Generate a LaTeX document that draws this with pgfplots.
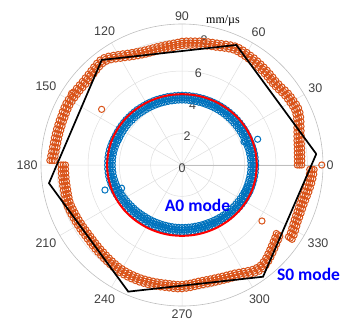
\documentclass[border=0pt]{standalone}
\usepackage{fontspec}
\setmainfont{Liberation Sans}
\newfontfamily\serifF{Liberation Serif}
\newfontfamily\carl{Carlito}
\usepackage{pgfplots}
\pgfplotsset{compat=1.18}
\usepackage{pgfplotstable}
\usepgfplotslibrary{polar}
\definecolor{orangeC}{HTML}{D95319}
\definecolor{blueC}{HTML}{0072BD}
\definecolor{lbl}{HTML}{404040}

\pgfplotstableread{
a rin rc rout
0 7.36 7.50 7.64
2 7.37 7.51 7.65
4 7.38 7.52 7.66
6 7.40 7.54 7.68
8 7.43 7.57 7.71
10 7.46 7.60 7.74
12 7.50 7.64 7.78
14 7.56 7.70 7.84
16 7.63 7.77 7.91
18 7.71 7.85 7.99
20 7.80 7.94 8.08
22 7.89 8.03 8.17
24 7.96 8.10 8.24
26 8.00 8.14 8.28
28 7.99 8.13 8.27
30 7.96 8.10 8.24
32 7.94 8.08 8.22
34 7.91 8.05 8.19
36 7.86 8.00 8.14
38 7.81 7.95 8.09
40 7.78 7.92 8.06
42 7.77 7.91 8.05
44 7.79 7.93 8.07
46 7.82 7.96 8.10
48 7.85 7.99 8.13
50 7.87 8.01 8.15
52 7.90 8.04 8.18
54 7.93 8.07 8.21
56 7.96 8.10 8.24
58 7.98 8.12 8.26
60 8.01 8.15 8.29
62 8.03 8.17 8.31
64 8.05 8.19 8.33
66 8.04 8.18 8.32
68 7.99 8.13 8.27
70 7.93 8.07 8.21
72 7.87 8.01 8.15
74 7.82 7.96 8.10
76 7.79 7.93 8.07
78 7.76 7.90 8.04
80 7.73 7.87 8.01
82 7.71 7.85 7.99
84 7.68 7.82 7.96
86 7.66 7.80 7.94
88 7.64 7.78 7.92
90 7.62 7.76 7.90
92 7.56 7.70 7.84
94 7.52 7.66 7.80
96 7.49 7.63 7.77
98 7.47 7.61 7.75
100 7.45 7.59 7.73
102 7.44 7.58 7.72
104 7.43 7.57 7.71
106 7.43 7.57 7.71
108 7.44 7.58 7.72
110 7.47 7.61 7.75
112 7.52 7.66 7.80
114 7.58 7.72 7.86
116 7.66 7.80 7.94
118 7.76 7.90 8.04
120 7.86 8.00 8.14
122 7.98 8.12 8.26
124 8.10 8.24 8.38
126 8.19 8.33 8.47
128 8.22 8.36 8.50
130 8.19 8.33 8.47
132 8.14 8.28 8.42
134 8.09 8.23 8.37
136 8.05 8.19 8.33
138 8.03 8.17 8.31
140 8.02 8.16 8.30
142 8.03 8.17 8.31
144 8.05 8.19 8.33
146 8.06 8.20 8.34
148 8.08 8.22 8.36
150 8.10 8.24 8.38
152 8.11 8.25 8.39
154 8.10 8.24 8.38
156 8.08 8.22 8.36
158 8.06 8.20 8.34
160 8.06 8.20 8.34
162 8.05 8.19 8.33
164 8.05 8.19 8.33
166 8.05 8.19 8.33
168 8.05 8.19 8.33
170 8.05 8.19 8.33
172 8.06 8.20 8.34
174 8.08 8.22 8.36
176 8.12 8.26 8.40
178 8.16 8.30 8.44
180 7.44 7.58 7.72
182 7.44 7.58 7.72
184 7.44 7.58 7.72
186 7.44 7.58 7.72
188 7.45 7.59 7.73
190 7.45 7.59 7.73
192 7.46 7.60 7.74
194 7.48 7.62 7.76
196 7.50 7.64 7.78
198 7.52 7.66 7.80
200 7.51 7.65 7.79
202 7.49 7.63 7.77
204 7.47 7.61 7.75
206 7.45 7.59 7.73
208 7.44 7.58 7.72
210 7.42 7.56 7.70
212 7.41 7.55 7.69
214 7.40 7.54 7.68
216 7.39 7.53 7.67
218 7.39 7.53 7.67
220 7.40 7.54 7.68
222 7.42 7.56 7.70
224 7.44 7.58 7.72
226 7.46 7.60 7.74
228 7.48 7.62 7.76
230 7.51 7.65 7.79
232 7.54 7.68 7.82
234 7.57 7.71 7.85
236 7.60 7.74 7.88
238 7.63 7.77 7.91
240 7.65 7.79 7.93
242 7.66 7.80 7.94
244 7.67 7.81 7.95
246 7.67 7.81 7.95
248 7.67 7.81 7.95
250 7.67 7.81 7.95
252 7.66 7.80 7.94
254 7.65 7.79 7.93
256 7.64 7.78 7.92
258 7.63 7.77 7.91
260 7.62 7.76 7.90
262 7.61 7.75 7.89
264 7.61 7.75 7.89
266 7.62 7.76 7.90
268 7.63 7.77 7.91
270 7.62 7.76 7.90
272 7.59 7.73 7.87
274 7.56 7.70 7.84
276 7.52 7.66 7.80
278 7.49 7.63 7.77
280 7.48 7.62 7.76
282 7.48 7.62 7.76
284 7.49 7.63 7.77
286 7.50 7.64 7.78
288 7.52 7.66 7.80
290 7.55 7.69 7.83
292 7.58 7.72 7.86
294 7.62 7.76 7.90
296 7.67 7.81 7.95
298 7.75 7.89 8.03
300 7.84 7.98 8.12
302 7.94 8.08 8.22
304 8.04 8.18 8.32
306 8.10 8.24 8.38
308 8.12 8.26 8.40
310 8.07 8.21 8.35
312 7.99 8.13 8.27
314 7.89 8.03 8.17
316 7.79 7.93 8.07
318 7.69 7.83 7.97
320 7.60 7.74 7.88
322 7.52 7.66 7.80
324 7.44 7.58 7.72
326 8.20 8.34 8.48
328 8.16 8.30 8.44
330 8.09 8.23 8.37
332 8.02 8.16 8.30
334 7.97 8.11 8.25
336 7.94 8.08 8.22
338 7.92 8.06 8.20
340 7.91 8.05 8.19
342 7.91 8.05 8.19
344 7.93 8.07 8.21
346 7.96 8.10 8.24
348 8.00 8.14 8.28
350 8.04 8.18 8.32
352 8.08 8.22 8.36
354 8.12 8.26 8.40
356 8.15 8.29 8.43
358 8.16 8.30 8.44
}\orangeT

\pgfplotstableread{
a rin rc rout
0 4.40 4.55 4.70
3 4.40 4.55 4.70
6 4.39 4.54 4.69
9 4.38 4.53 4.68
12 4.37 4.52 4.67
15 4.35 4.50 4.65
18 4.33 4.48 4.63
21 4.32 4.47 4.62
24 4.31 4.46 4.61
27 4.30 4.45 4.60
30 4.29 4.44 4.59
33 4.28 4.43 4.58
36 4.27 4.42 4.57
39 4.26 4.41 4.56
42 4.25 4.40 4.55
45 4.24 4.39 4.54
48 4.23 4.38 4.53
51 4.22 4.37 4.52
54 4.21 4.36 4.51
57 4.20 4.35 4.50
60 4.19 4.34 4.49
63 4.18 4.33 4.48
66 4.17 4.32 4.47
69 4.16 4.31 4.46
72 4.16 4.31 4.46
75 4.15 4.30 4.45
78 4.15 4.30 4.45
81 4.15 4.30 4.45
84 4.15 4.30 4.45
87 4.15 4.30 4.45
90 4.15 4.30 4.45
93 4.15 4.30 4.45
96 4.15 4.30 4.45
99 4.15 4.30 4.45
102 4.16 4.31 4.46
105 4.16 4.31 4.46
108 4.17 4.32 4.47
111 4.18 4.33 4.48
114 4.19 4.34 4.49
117 4.20 4.35 4.50
120 4.21 4.36 4.51
123 4.22 4.37 4.52
126 4.23 4.38 4.53
129 4.25 4.40 4.55
132 4.26 4.41 4.56
135 4.27 4.42 4.57
138 4.28 4.43 4.58
141 4.30 4.45 4.60
144 4.31 4.46 4.61
147 4.32 4.47 4.62
150 4.33 4.48 4.63
153 4.34 4.49 4.64
156 4.35 4.50 4.65
159 4.37 4.52 4.67
162 4.39 4.54 4.69
165 4.41 4.56 4.71
168 4.43 4.58 4.73
171 4.44 4.59 4.74
174 4.45 4.60 4.75
177 4.45 4.60 4.75
180 4.45 4.60 4.75
183 4.45 4.60 4.75
186 4.44 4.59 4.74
189 4.43 4.58 4.73
192 4.41 4.56 4.71
195 4.39 4.54 4.69
198 4.36 4.51 4.66
201 4.33 4.48 4.63
204 4.30 4.45 4.60
207 4.27 4.42 4.57
210 4.24 4.39 4.54
213 4.21 4.36 4.51
216 4.18 4.33 4.48
219 4.15 4.30 4.45
222 4.13 4.28 4.43
225 4.11 4.26 4.41
228 4.09 4.24 4.39
231 4.07 4.22 4.37
234 4.05 4.20 4.35
237 4.04 4.19 4.34
240 4.03 4.18 4.33
243 4.02 4.17 4.32
246 4.01 4.16 4.31
249 4.00 4.15 4.30
252 4.00 4.15 4.30
255 3.99 4.14 4.29
258 3.99 4.14 4.29
261 3.99 4.14 4.29
264 3.99 4.14 4.29
267 3.99 4.14 4.29
270 3.99 4.14 4.29
273 3.99 4.14 4.29
276 3.99 4.14 4.29
279 4.00 4.15 4.30
282 4.00 4.15 4.30
285 4.01 4.16 4.31
288 4.02 4.17 4.32
291 4.03 4.18 4.33
294 4.04 4.19 4.34
297 4.06 4.21 4.36
300 4.08 4.23 4.38
303 4.10 4.25 4.40
306 4.12 4.27 4.42
309 4.14 4.29 4.44
312 4.16 4.31 4.46
315 4.18 4.33 4.48
318 4.20 4.35 4.50
321 4.23 4.38 4.53
324 4.25 4.40 4.55
327 4.27 4.42 4.57
330 4.29 4.44 4.59
333 4.31 4.46 4.61
336 4.33 4.48 4.63
339 4.35 4.50 4.65
342 4.36 4.51 4.66
345 4.37 4.52 4.67
348 4.38 4.53 4.68
351 4.39 4.54 4.69
354 4.40 4.55 4.70
357 4.40 4.55 4.70
}\blueT

\begin{document}
\begin{tikzpicture}
\useasboundingbox (-182pt,-167pt) rectangle (162pt,165pt);
\begin{polaraxis}[
  at={(0,0)}, anchor=origin,
  scale only axis, width=282pt, height=282pt,
  ymin=0, ymax=9,
  xtick={0,30,...,330},
  ytick={0,2,4,6,8},
  yticklabel style={opacity=0},
  xticklabel={\pgfmathprintnumber[assume math mode=true]{\tick}},
  xticklabel style={font=\fontsize{12.5}{14}\selectfont, text=lbl},
  grid=major,
  major grid style={black!13, line width=0.5pt},
  axis line style={black!25, line width=0.6pt},
  tick style={draw=none},
  clip=false,
  clip marker paths=true,
  every axis plot/.append style={mark options={line width=1pt}},
]
\foreach \r/\rr in {2/1.88,4/3.88,6/5.98,8/8.08} {
  \edef\tmp{\noexpand\node[font=\noexpand\fontsize{12.5}{14}\noexpand\selectfont, text=lbl, inner sep=0pt] at (axis cs:80,\rr) {\r};}
  \tmp
}
\node[font=\fontsize{12.5}{14}\selectfont, text=lbl, inner sep=0pt] at (axis cs:270,0.18) {0};
% S0 mode data
\addplot[only marks, mark=o, color=orangeC, mark size=3.1pt] table[x=a, y=rin] {\orangeT};
\addplot[only marks, mark=o, color=orangeC, mark size=3.1pt] table[x=a, y=rc] {\orangeT};
\addplot[only marks, mark=o, color=orangeC, mark size=3.1pt] table[x=a, y=rout] {\orangeT};
\addplot[only marks, mark=o, color=orangeC, mark size=3.1pt] coordinates {(0,8.92) (325,6.23) (145.3,6.24) (147,8.4)};
% A0 mode data
\addplot[only marks, mark=o, color=blueC, mark size=3.1pt] table[x=a, y=rin] {\blueT};
\addplot[only marks, mark=o, color=blueC, mark size=3.1pt] table[x=a, y=rc] {\blueT};
\addplot[only marks, mark=o, color=blueC, mark size=3.1pt] table[x=a, y=rout] {\blueT};
\addplot[only marks, mark=o, color=blueC, mark size=3.1pt] coordinates {(158.6,4.37) (161.3,4.63) (198,5.17) (201,4.13) (20.6,4.23) (18.8,5.1) (340.2,4.39) (337,4.38)};
% fits
\addplot[red, line width=2pt, smooth, no marks] coordinates {
(0,4.78) (10,4.77) (20,4.75) (30,4.71) (40,4.67) (50,4.62) (60,4.58) (70,4.55) (80,4.53) (90,4.52)
(100,4.53) (110,4.55) (120,4.58) (130,4.62) (140,4.67) (150,4.71) (160,4.75) (170,4.77) (180,4.78)
(190,4.77) (200,4.75) (210,4.71) (220,4.67) (230,4.62) (240,4.58) (250,4.55) (260,4.53) (270,4.52)
(280,4.53) (290,4.55) (300,4.58) (310,4.62) (320,4.67) (330,4.71) (340,4.75) (350,4.77) (360,4.78)};
\addplot[black, line width=1.7pt, no marks] coordinates {
(4.7,8.60) (65.65,8.41) (127.4,8.44) (187.8,8.57) (247,8.78) (305.95,8.81) (364.7,8.60)};
\end{polaraxis}
\node[font=\serifF\fontsize{12}{14}\selectfont] at (41pt,144pt) {mm/\textmu s};
\node[font=\carl\bfseries\fontsize{17.5}{20}\selectfont, text=blue] at (15.5pt,-40pt) {A0 mode};
\node[font=\carl\bfseries\fontsize{17.5}{20}\selectfont, text=blue] at (126.5pt,-109pt) {S0 mode};
\end{tikzpicture}
\end{document}
